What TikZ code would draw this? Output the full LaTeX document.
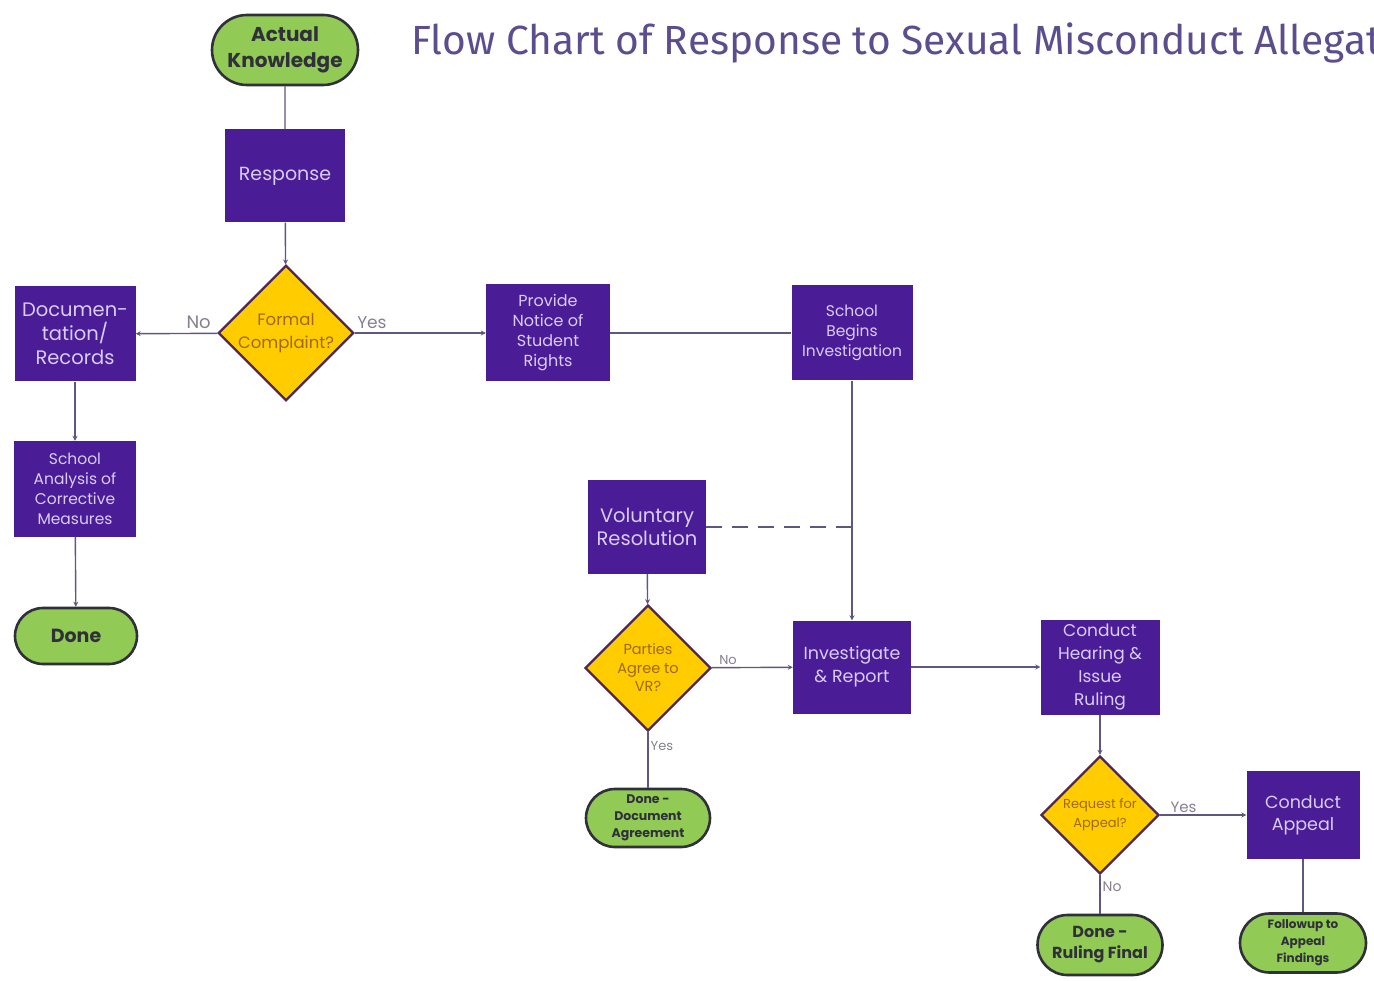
\documentclass[tikz,border=0pt]{standalone}
\usepackage{fontspec}
\setmainfont{Poppins}
\newfontfamily\titlefont{Fira Sans}
\usepackage{tikz}
\usetikzlibrary{shapes.geometric, shapes.misc, arrows.meta, positioning}

\definecolor{boxpurple}{RGB}{74,28,150}
\definecolor{boxtext}{RGB}{218,204,244}
\definecolor{pillgreen}{RGB}{145,202,84}
\definecolor{pillline}{RGB}{48,48,58}
\definecolor{diayellow}{RGB}{255,204,0}
\definecolor{dialine}{RGB}{78,40,82}
\definecolor{diatext}{RGB}{160,104,20}
\definecolor{connline}{RGB}{96,86,128}
\definecolor{lbltext}{RGB}{135,128,145}
\definecolor{titletext}{RGB}{92,78,142}

\tikzset{
  fs/.style 2 args={font=\fontsize{#1}{#2}\selectfont},
  bfs/.style 2 args={font=\bfseries\fontsize{#1}{#2}\selectfont},
  stepbox/.style={rectangle, fill=boxpurple, text=boxtext, align=center,
    minimum width=121pt, minimum height=95pt, inner sep=1pt},
  pill/.style={rounded rectangle, fill=pillgreen, draw=pillline, line width=2.6pt,
    text=pillline, align=center, minimum width=124pt,
    minimum height=58pt, inner sep=0pt},
  decision/.style={diamond, aspect=1, fill=diayellow, draw=dialine, line width=2.4pt,
    text=diatext, align=center, inner sep=0pt},
  line/.style={draw=connline, line width=1.4pt},
  arr/.style={line, -{Stealth[length=5pt,width=5pt]}},
  lbl/.style={text=lbltext, inner sep=2pt}
}

\begin{document}
\begin{tikzpicture}[x=1pt, y=-1pt]
    \useasboundingbox (0,0) rectangle (1374,981);
    \fill[white] (0,0) rectangle (1374,981);
    \clip (0,0) rectangle (1374,981);

    % title, cut at the right edge
    \node[anchor=west, text=titletext, inner sep=0pt, font=\titlefont\fontsize{40.7}{48}\selectfont]
        (title) at (411,43) {Flow Chart of Response to Sexual Misconduct Allegations};

    % left column
    \node[pill, bfs={20}{26}, minimum width=146pt, minimum height=70pt] (know) at (285,50)
        {Actual\\Knowledge};
    \node[stepbox, fs={19}{20}, minimum width=120pt, minimum height=93pt] (resp) at (285,176)
        {Response};
    \node[decision, fs={16.5}{23}, minimum width=132pt, minimum height=132pt] (formal) at (286,333)
        {Formal\\Complaint?};
    \node[stepbox, fs={19.5}{24}] (doc) at (75,334)
        {Documen-\\tation/\\Records};
    \node[stepbox, fs={15.5}{20}, minimum width=122pt, minimum height=96pt] (analysis) at (75,489)
        {School\\Analysis of\\Corrective\\Measures};
    \node[pill, bfs={19}{20}, minimum width=122pt, minimum height=56pt] (done) at (76,636)
        {Done};

    % top row
    \node[stepbox, fs={16}{20}, minimum width=124pt, minimum height=97pt] (notice) at (548,333)
        {Provide\\Notice of\\Student\\Rights};
    \node[stepbox, fs={15.5}{20}] (begins) at (852,333)
        {School\\Begins\\Investigation};

    % middle
    \node[stepbox, fs={19.5}{23}, minimum width=118pt, minimum height=94pt] (vr) at (647,527)
        {Voluntary\\Resolution};
    \node[decision, fs={14.5}{18.5}, minimum width=126pt, minimum height=126pt] (parties) at (648,668)
        {Parties\\Agree to\\VR?};
    \node[pill, bfs={12.5}{17}] (donedoc) at (648,818)
        {Done -\\Document\\Agreement};
    \node[stepbox, fs={17.5}{23}, minimum width=118pt, minimum height=93pt] (invest) at (852,667)
        {Investigate\\\& Report};

    % right part
    \node[stepbox, fs={17}{23}, minimum width=119pt] (hearing) at (1100,667)
        {Conduct\\Hearing \&\\Issue\\Ruling};
    \node[decision, fs={13}{19}, minimum width=118pt, minimum height=118pt] (appealq) at (1100,815)
        {Request for\\Appeal?};
    \node[stepbox, fs={17.5}{22}, minimum width=113pt, minimum height=88pt] (appeal) at (1303,815)
        {Conduct\\Appeal};
    \node[pill, bfs={16}{21}, minimum width=125pt, minimum height=60pt] (final) at (1100,945)
        {Done -\\Ruling Final};
    \node[pill, bfs={12}{17}, minimum width=126pt, minimum height=59pt] (followup) at (1303,943)
        {Followup to\\Appeal\\Findings};

    % connectors
    \draw[line] (know) -- (resp);
    \draw[arr] (resp) -- (formal);
    \draw[arr] (formal) -- node[lbl, fs={18}{20}, above, pos=0.23, yshift=2pt] {No} (doc);
    \draw[arr] (formal) -- node[lbl, fs={17}{20}, above, pos=0.13, yshift=2pt] {Yes} (notice);
    \draw[arr] (doc) -- (analysis);
    \draw[arr] (analysis) -- (done);
    \draw[line] (notice) -- (begins);
    \draw[arr] (begins) -- (invest);
    \draw[line, dashed, dash pattern=on 16pt off 10pt] (vr.east) -- (vr.east -| begins.south);
    \draw[arr] (vr) -- (parties);
    \draw[arr] (parties) -- node[lbl, fs={13}{14}, above, pos=0.2] {No} (invest);
    \draw[line] (parties) -- node[lbl, fs={13}{14}, right, pos=0.25] {Yes} (donedoc);
    \draw[arr] (invest) -- (hearing);
    \draw[arr] (hearing) -- (appealq);
    \draw[arr] (appealq) -- node[lbl, fs={15}{16}, above, pos=0.27] {Yes} (appeal);
    \draw[line] (appealq) -- node[lbl, fs={14}{15}, right, pos=0.3] {No} (final);
    \draw[line] (appeal) -- (followup);
\end{tikzpicture}
\end{document}
